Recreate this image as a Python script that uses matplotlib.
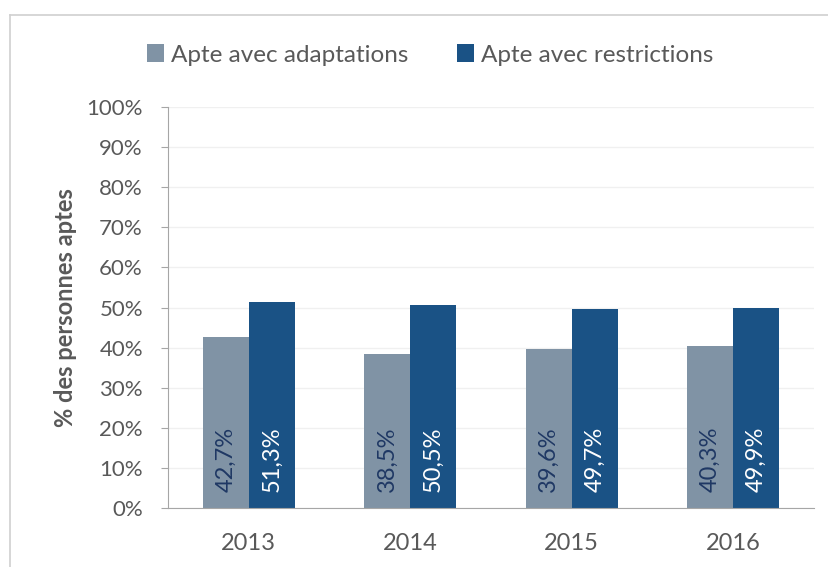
import matplotlib.pyplot as plt
import numpy as np
from matplotlib.lines import Line2D

annees = ['2013', '2014', '2015', '2016']
adaptations = [42.7, 38.5, 39.6, 40.3]
restrictions = [51.3, 50.5, 49.7, 49.9]
noms = ['Apte avec adaptations', 'Apte avec restrictions']

gris = '#8093a5'
bleu = '#1a5285'
texte = '#595959'

plt.rcParams['font.family'] = ['Lato', 'DejaVu Sans']

fig = plt.figure(figsize=(8.29, 5.67), dpi=100)
ax = fig.add_axes([168/829, 1-508/567, (814-168)/829, (508-107)/567])

x = np.arange(len(annees))
w = 0.285
b1 = ax.bar(x - w/2, adaptations, w, color=gris, label=noms[0], zorder=2)
b2 = ax.bar(x + w/2, restrictions, w, color=bleu, label=noms[1], zorder=2)

# etiquettes dans les barres
for xi, v in zip(x, adaptations):
    ax.text(xi - w/2, 4, f'{v:.1f}%'.replace('.', ','), rotation=90,
            ha='center', va='bottom', color='#1f3864', fontsize=17, zorder=3)
for xi, v in zip(x, restrictions):
    ax.text(xi + w/2, 4, f'{v:.1f}%'.replace('.', ','), rotation=90,
            ha='center', va='bottom', color='white', fontsize=17, zorder=3)

ax.set_xlim(-0.5, 3.5)
ax.set_ylim(0, 100)
ax.set_yticks(np.arange(0, 101, 10))
ax.set_yticklabels([f'{t}%' for t in range(0, 101, 10)])
ax.set_xticks(x)
ax.set_xticklabels(annees)
ax.tick_params(axis='both', labelcolor=texte, colors='#a6a6a6')
ax.tick_params(axis='x', length=0, pad=18, labelsize=17)
ax.tick_params(axis='y', length=5, direction='out', pad=13, labelsize=16)
ax.grid(axis='y', color='#f0f0f0', linewidth=1, zorder=0)
for s in ['top', 'right']:
    ax.spines[s].set_visible(False)
ax.spines['left'].set_color('#a6a6a6')
ax.spines['bottom'].set_color('#a6a6a6')
ax.set_ylabel('% des personnes aptes', fontsize=17, fontweight='bold',
              color=texte, labelpad=7)

fig.legend(handles=[b1, b2], labels=noms, loc='center', bbox_to_anchor=(430/829, 1-55/567),
           ncol=2, frameon=False, fontsize=17.5, labelcolor=texte,
           handlelength=0.7, handleheight=0.7, handletextpad=0.3, columnspacing=2.0)

# cadre
fig.add_artist(Line2D([10/829, 10/829], [0, 1-15/567], color='#d0d0d0', lw=1.2))
fig.add_artist(Line2D([10/829, 1], [1-15/567, 1-15/567], color='#d0d0d0', lw=1.2))

fig.savefig('out.png', dpi=100)
